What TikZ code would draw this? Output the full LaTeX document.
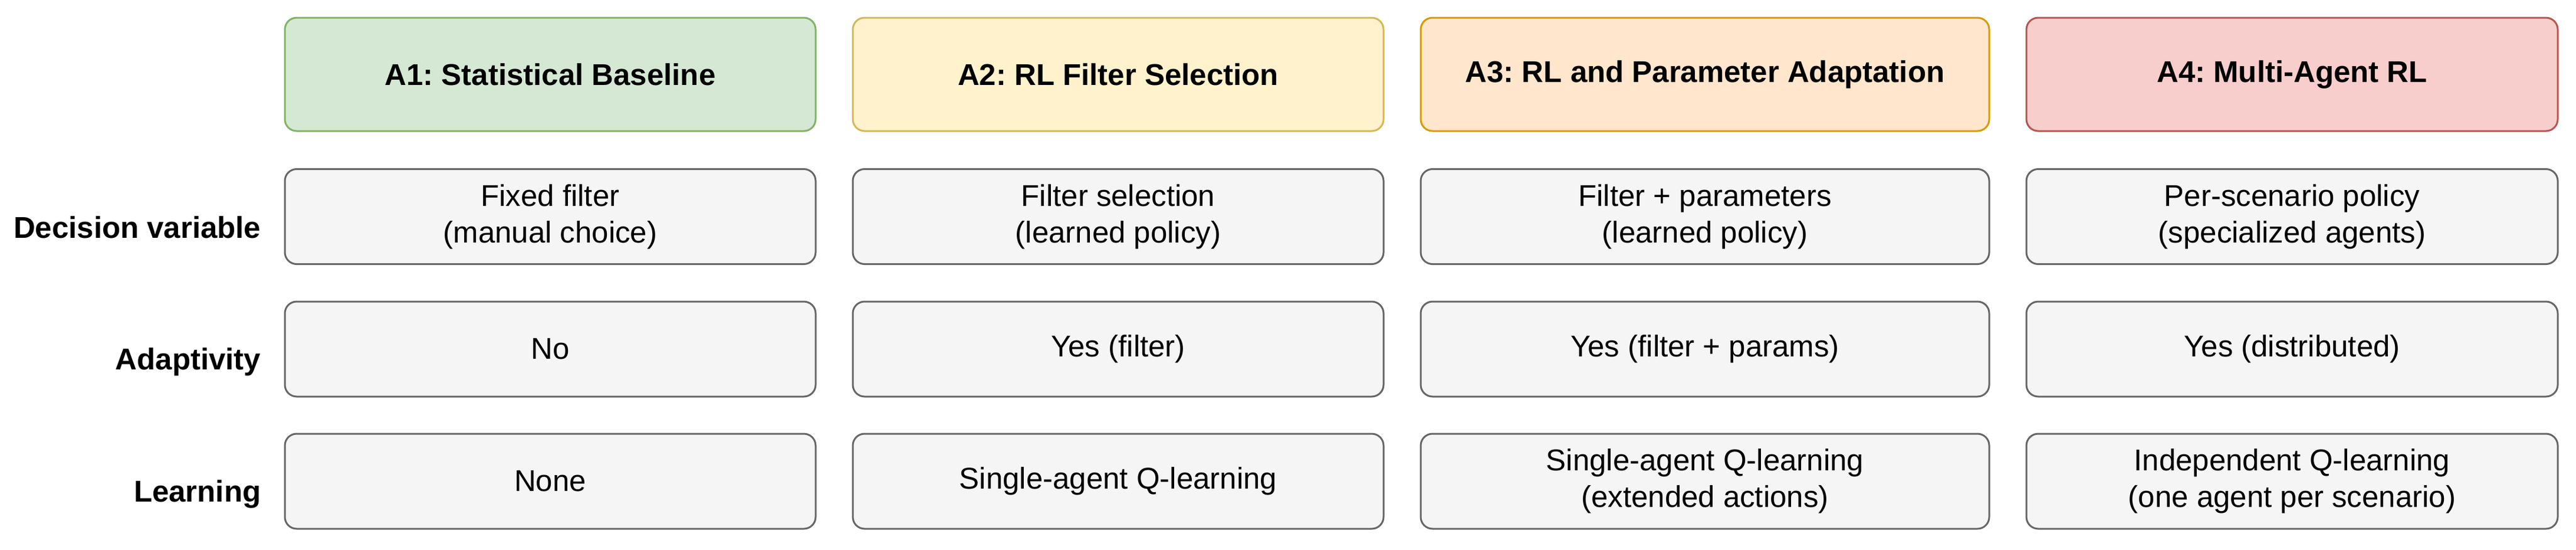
\documentclass[tikz,border=0pt]{standalone}
\usepackage{fontspec}
\setmainfont{Liberation Sans}
\usepackage{tikz}
\usetikzlibrary{positioning}
\frenchspacing

\definecolor{greenfill}{HTML}{D5E8D4}
\definecolor{greenline}{HTML}{82B366}
\definecolor{yellowfill}{HTML}{FFF2CC}
\definecolor{yellowline}{HTML}{D6B656}
\definecolor{orangefill}{HTML}{FFE6CC}
\definecolor{orangeline}{HTML}{D79B00}
\definecolor{redfill}{HTML}{F8CECC}
\definecolor{redline}{HTML}{B85450}
\definecolor{grayfill}{HTML}{F5F5F5}
\definecolor{grayline}{HTML}{666666}

\tikzset{
  headbox/.style={draw, rounded corners=0.2cm, line width=0.03cm, minimum height=1.92cm,
    align=center, font=\fontsize{14.5}{17.6}\selectfont\bfseries},
  cellbox/.style={draw=grayline, fill=grayfill, rounded corners=0.2cm, line width=0.03cm,
    minimum height=1.61cm, align=center, font=\fontsize{14.5}{17.6}\selectfont},
  rowlabel/.style={anchor=base east, inner sep=0pt, font=\fontsize{14.5}{17.6}\selectfont\bfseries}
}

\begin{document}
\begin{tikzpicture}
			%%%%% FRAME %%%%%
			\useasboundingbox (0, 0) rectangle (43.68, -9.31);
			
			%%%%% HEADERS %%%%%
			\node[headbox, fill=greenfill, draw=greenline, minimum width=9cm] (h1) at (9.33, -1.26) {A1: Statistical Baseline};
			\node[headbox, fill=yellowfill, draw=yellowline, minimum width=9cm] (h2) at (18.96, -1.26) {A2: RL Filter Selection};
			\node[headbox, fill=orangefill, draw=orangeline, minimum width=9.64cm] (h3) at (28.91, -1.26) {A3: RL and Parameter Adaptation};
			\node[headbox, fill=redfill, draw=redline, minimum width=9.01cm] (h4) at (38.865, -1.26) {A4: Multi-Agent RL};
			
			%%%%% DECISION VARIABLE %%%%%
			\node[rowlabel] (lbldec) at (4.43, -4.03) {Decision variable};
			\node[cellbox, minimum width=9cm] (d1) at (9.33, -3.67) {Fixed filter\\(manual choice)};
			\node[cellbox, minimum width=9cm] (d2) at (18.96, -3.67) {Filter selection\\(learned policy)};
			\node[cellbox, minimum width=9.64cm] (d3) at (28.91, -3.67) {Filter + parameters\\(learned policy)};
			\node[cellbox, minimum width=9.01cm] (d4) at (38.865, -3.67) {Per-scenario policy\\(specialized agents)};
			
			%%%%% ADAPTIVITY %%%%%
			\node[rowlabel] (lbladapt) at (4.43, -6.26) {Adaptivity};
			\node[cellbox, minimum width=9cm] (a1) at (9.33, -5.915) {No};
			\node[cellbox, minimum width=9cm] (a2) at (18.96, -5.915) {Yes (filter)};
			\node[cellbox, minimum width=9.64cm] (a3) at (28.91, -5.915) {Yes (filter + params)};
			\node[cellbox, minimum width=9.01cm] (a4) at (38.865, -5.915) {Yes (distributed)};
			
			%%%%% LEARNING %%%%%
			\node[rowlabel] (lbllearn) at (4.43, -8.50) {Learning};
			\node[cellbox, minimum width=9cm] (l1) at (9.33, -8.155) {None};
			\node[cellbox, minimum width=9cm] (l2) at (18.96, -8.155) {Single-agent Q-learning};
			\node[cellbox, minimum width=9.64cm] (l3) at (28.91, -8.155) {Single-agent Q-learning\\(extended actions)};
			\node[cellbox, minimum width=9.01cm] (l4) at (38.865, -8.155) {Independent Q-learning\\(one agent per scenario)};
		\end{tikzpicture}
\end{document}
